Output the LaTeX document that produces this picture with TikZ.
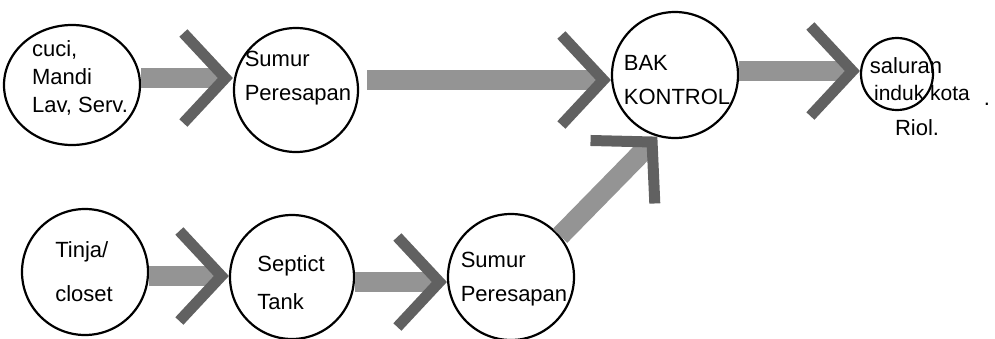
\documentclass[tikz,border=0pt]{standalone}
\usepackage{fontspec}
\setmainfont{Liberation Sans}
\usetikzlibrary{arrows.meta,shapes.geometric}
\begin{document}
\begin{tikzpicture}[x=1pt,y=-1pt,
  unit/.style={draw,circle,line width=2.2pt,inner sep=0pt,minimum size=#1},
  flow/.style={line width=20pt, draw=black!42,
    -{Straight Barb[length=42pt,width=90pt,line width=11pt,color=black!62]}},
  lbl/.style={font=\fontsize{22}{34}\selectfont, inner sep=0pt, align=left},
  small/.style={font=\fontsize{22}{26}\selectfont, inner sep=0pt}]
\useasboundingbox (0,0) rectangle (995,338);
% units
\node[draw,ellipse,line width=2.2pt,inner sep=0pt,minimum width=136pt,minimum height=120pt] (cuci) at (72,85) {};
\node[unit=124pt] (sumur1) at (296,90) {};
\node[unit=126pt] (bak) at (675,75) {};
\node[unit=72pt] (sal) at (897,74) {};
\node[unit=126pt] (tinja) at (85,272) {};
\node[unit=124pt] (septic) at (292,277) {};
\node[unit=126pt] (sumur2) at (511,277) {};
% labels
\node[lbl,font=\fontsize{22}{28}\selectfont] (tcuci) at (80,78) {cuci,\\Mandi\\Lav, Serv.};
\node[lbl] (tsumur1) at (298,78) {Sumur\\Peresapan};
\node[lbl] (tbak) at (677,80) {BAK\\KONTROL};
\node[lbl,font=\fontsize{22}{44}\selectfont] (ttinja) at (84,272) {Tinja/\\closet};
\node[lbl,font=\fontsize{22}{38}\selectfont] (tseptic) at (291,283) {Septict\\Tank};
\node[lbl] (tsumur2) at (514,279) {Sumur\\Peresapan};
\node[small] (tsal) at (906,66) {saluran};
\node[small,font=\fontsize{21}{26}\selectfont] (tinduk) at (922,93) {induk kota};
\node[small] (triol) at (917,128) {Riol.};
\node[small] (tdot) at (987,104) {.};
% flows
\draw[flow] ([yshift=7pt]cuci.east) -- ([yshift=12pt]sumur1.west);
\draw[flow,shorten <=8pt] ([yshift=10pt]sumur1.east) -- ([yshift=-5pt]bak.west);
\draw[flow] ([yshift=4pt]bak.east) -- ([yshift=3pt]sal.west);
\draw[flow] ([yshift=-4pt]tinja.east) -- ([yshift=1pt]septic.west);
\draw[flow] ([yshift=-5pt]septic.east) -- ([yshift=-5pt]sumur2.west);
\draw[flow] (sumur2.40) -- (bak.-106);
\end{tikzpicture}
\end{document}
